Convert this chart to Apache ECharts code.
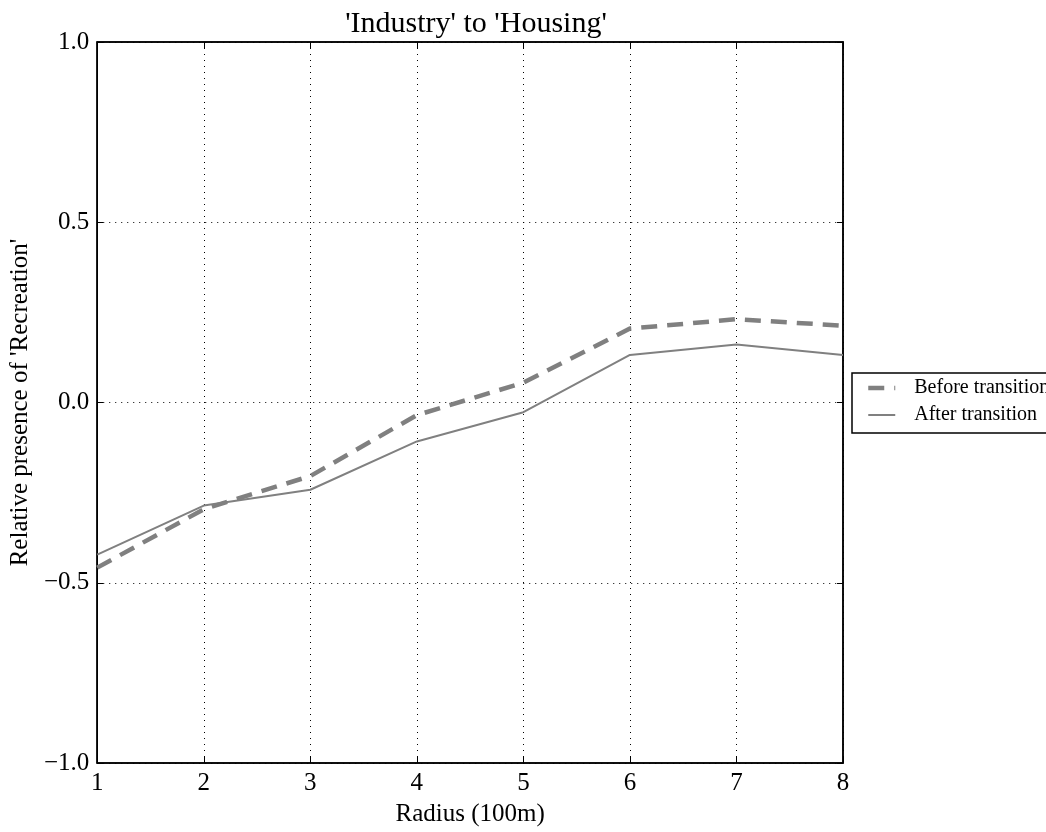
<!DOCTYPE html>
<html>
<head>
<meta charset="utf-8">
<script src="https://cdn.jsdelivr.net/npm/echarts@6/dist/echarts.min.js"></script>
<style>html,body{margin:0;padding:0;background:#fff;}#c{width:1046px;height:832px;}</style>
</head>
<body>
<div id="c"></div>
<script>
const radius = [1, 2, 3, 4, 5, 6, 7, 8];
const beforeTransition = [-0.458, -0.296, -0.204, -0.035, 0.055, 0.205, 0.231, 0.213];
const afterTransition = [-0.422, -0.286, -0.242, -0.108, -0.027, 0.132, 0.161, 0.132];
const seriesNames = ['Before transition', 'After transition'];
const titleText = "'Industry' to 'Housing'";
const xName = 'Radius (100m)';
const yName = "Relative presence of 'Recreation'";

const FONT = 'Liberation Serif';
const chart = echarts.init(document.getElementById('c'));
const fmtY = v => (v < 0 ? '\u2212' : '') + Math.abs(v).toFixed(1);
const dotted = {show: true, lineStyle: {color: '#000', width: 1, type: [1, 5]}};
chart.setOption({
  animation: false,
  backgroundColor: '#fff',
  title: {text: titleText, left: 471, top: 4, textAlign: 'center',
    textStyle: {fontFamily: FONT, fontSize: 30, fontWeight: 'normal', color: '#000'}},
  grid: {left: 97, right: 203, top: 42, bottom: 68, show: true, borderColor: '#000', borderWidth: 1.5, containLabel: false},
  legend: {
    left: 852, top: 373, orient: 'vertical', itemWidth: 27, itemHeight: 14, itemGap: 7,
    padding: [5, 14, 8, 14], borderColor: '#000', borderWidth: 1.5, backgroundColor: '#fff',
    itemStyle: {opacity: 0},
    textStyle: {fontFamily: FONT, fontSize: 20, color: '#000', padding: [0, 0, 0, 14]},
    data: [
      {name: seriesNames[0], lineStyle: {width: 4.5}},
      {name: seriesNames[1], lineStyle: {width: 2}}
    ]
  },
  xAxis: [{
    type: 'value', min: 1, max: 8, interval: 1,
    name: xName, nameLocation: 'middle', nameGap: 39,
    nameTextStyle: {fontFamily: FONT, fontSize: 25, color: '#000'},
    axisLine: {show: true, onZero: false, lineStyle: {color: '#000', width: 1.5}},
    axisTick: {show: true, inside: true, length: 6, lineStyle: {color: '#000'}},
    axisLabel: {fontFamily: FONT, fontSize: 25, color: '#000', margin: 8},
    splitLine: dotted
  }, {
    type: 'value', min: 1, max: 8, interval: 1, position: 'top',
    axisLine: {show: true, onZero: false, lineStyle: {color: '#000', width: 1.5}},
    axisTick: {show: true, inside: true, length: 6, lineStyle: {color: '#000'}},
    axisLabel: {show: false}, splitLine: {show: false}
  }],
  yAxis: [{
    type: 'value', min: -1, max: 1, interval: 0.5,
    name: yName, nameLocation: 'middle', nameGap: 63, nameRotate: 90,
    nameTextStyle: {fontFamily: FONT, fontSize: 25, color: '#000'},
    axisLine: {show: true, onZero: false, lineStyle: {color: '#000', width: 1.5}},
    axisTick: {show: true, inside: true, length: 6, lineStyle: {color: '#000'}},
    axisLabel: {fontFamily: FONT, fontSize: 25, color: '#000', margin: 8, formatter: fmtY},
    splitLine: dotted
  }, {
    type: 'value', min: -1, max: 1, interval: 0.5, position: 'right',
    axisLine: {show: true, onZero: false, lineStyle: {color: '#000', width: 1.5}},
    axisTick: {show: true, inside: true, length: 6, lineStyle: {color: '#000'}},
    axisLabel: {show: false}, splitLine: {show: false}
  }],
  series: [{
    name: seriesNames[0], type: 'line', symbol: 'none',
    data: radius.map((r, i) => [r, beforeTransition[i]]),
    lineStyle: {color: '#808080', width: 4.5, type: [16, 10]},
    itemStyle: {color: '#808080'}
  }, {
    name: seriesNames[1], type: 'line', symbol: 'none',
    data: radius.map((r, i) => [r, afterTransition[i]]),
    lineStyle: {color: '#808080', width: 2},
    itemStyle: {color: '#808080'}
  }]
});
</script>
</body>
</html>
